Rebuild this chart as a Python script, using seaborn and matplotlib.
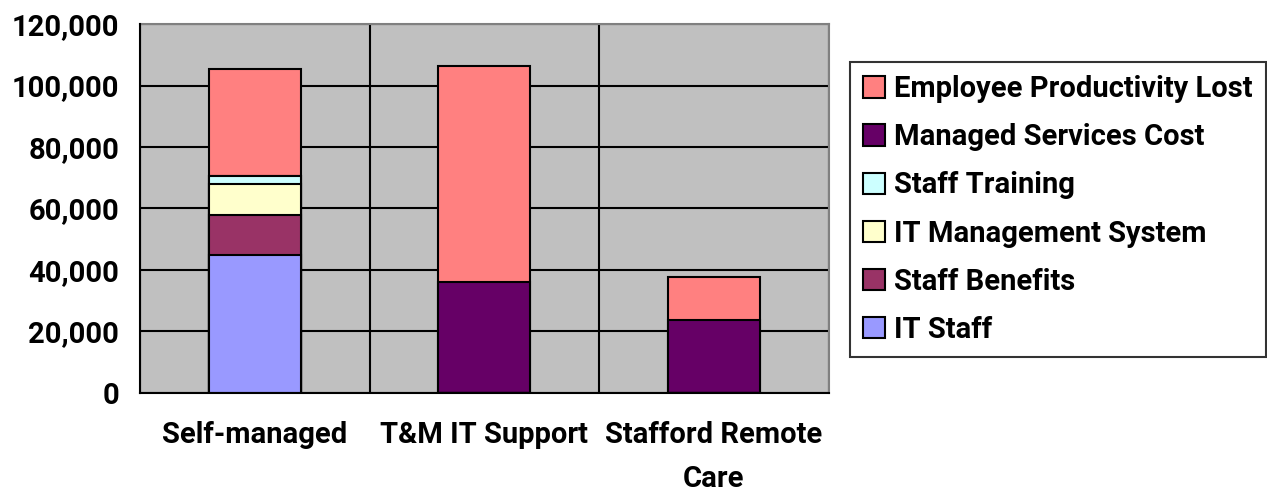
import numpy as np
import pandas as pd
import matplotlib
matplotlib.use("Agg")
import matplotlib.pyplot as plt
from matplotlib.ticker import FuncFormatter, FixedLocator
import seaborn as sns

# ── data ────────────────────────────────────────────────────
categories = ["Self-managed", "T&M IT Support", "Stafford Remote\nCare"]

# stacking order, bottom -> top
series = ["IT Staff", "Staff Benefits", "IT Management System",
          "Staff Training", "Managed Services Cost", "Employee Productivity Lost"]
it_staff = [45000, 0, 0]
staff_benefits = [13000, 0, 0]
it_mgmt_system = [10000, 0, 0]
staff_training = [2500, 0, 0]
managed_services = [0, 36200, 23700]
productivity_lost = [35000, 70000, 14000]

colors = ["#9999FF", "#993366", "#FFFFCC", "#CCFFFF", "#660066", "#FF8080"]

values = pd.DataFrame(
    [it_staff, staff_benefits, it_mgmt_system, staff_training,
     managed_services, productivity_lost],
    index=series, columns=categories)
cum = values.cumsum(axis=0)

# ── style ───────────────────────────────────────────────────
sns.set_style("white")
plt.rcParams["font.family"] = ["Roboto", "DejaVu Sans"]
plt.rcParams["font.weight"] = "bold"
plt.rcParams["text.color"] = "black"
plt.rcParams["xtick.color"] = "black"
plt.rcParams["ytick.color"] = "black"
FS = 21

fig = plt.figure(figsize=(12.67, 4.96), dpi=100)
ax = fig.add_axes([0.1105, 0.2077, 0.5435, 0.7439])
ax.set_facecolor("#C0C0C0")

# draw cumulative totals from top layer down so lower layers sit in front
for name, col in zip(series[::-1], colors[::-1]):
    sns.barplot(x=categories, y=cum.loc[name].values, color=col, width=0.4,
                edgecolor="black", linewidth=1.5, saturation=1, ax=ax,
                label=name, zorder=3)

ax.set_ylim(0, 120000)
ax.set_xlim(-0.5, 2.5)
ax.set_yticks(np.arange(0, 120001, 20000))
ax.yaxis.set_major_formatter(FuncFormatter(lambda v, p: f"{int(v):,}"))

# category ticks between groups, labels at centres
ax.xaxis.set_minor_locator(FixedLocator([-0.5, 0.5, 1.5, 2.5]))
ax.tick_params(axis="x", which="major", length=0, pad=20, labelsize=FS,
               labelcolor="black")
ax.tick_params(axis="x", which="minor", length=9, width=1.5, color="black",
               direction="out")
ax.tick_params(axis="y", length=9, width=1.5, color="black", direction="out",
               labelsize=FS, pad=6, labelcolor="black")
for t in ax.get_xticklabels() + ax.get_yticklabels():
    t.set_fontweight("bold")
    t.set_linespacing(1.75)

ax.grid(axis="y", which="major", color="black", linewidth=1.5, zorder=0)
ax.grid(axis="x", which="minor", color="black", linewidth=1.5, zorder=0)
ax.set_axisbelow(True)

for side in ["left", "bottom"]:
    ax.spines[side].set_color("black")
    ax.spines[side].set_linewidth(1.5)
for side in ["top", "right"]:
    ax.spines[side].set_color("#808080")
    ax.spines[side].set_linewidth(1.5)
ax.spines["left"].set_zorder(5)
ax.spines["bottom"].set_zorder(5)

ax.set_xlabel("")
ax.set_ylabel("")

leg = ax.legend(loc="upper left", bbox_to_anchor=(0.671, 0.875),
                bbox_transform=fig.transFigure, frameon=True, fancybox=False,
                prop={"size": FS, "weight": "bold"}, handlelength=0.75,
                handleheight=0.75, handletextpad=0.3, labelspacing=0.69,
                borderpad=0.45, borderaxespad=0)
leg.get_frame().set_edgecolor("black")
leg.get_frame().set_linewidth(1.5)
for txt in leg.get_texts():
    txt.set_color("black")

fig.savefig("out.png", dpi=100)
